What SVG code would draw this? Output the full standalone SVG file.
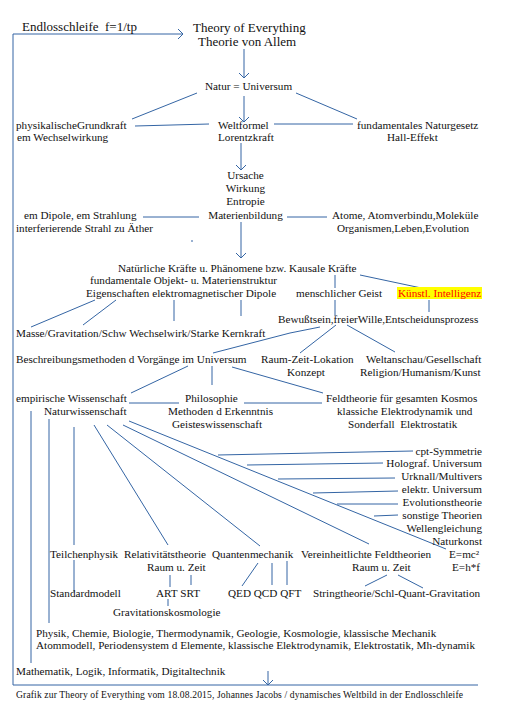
<svg xmlns="http://www.w3.org/2000/svg" width="506" height="706" viewBox="0 0 506 706">
<defs>
<style>
text{font-family:"Liberation Serif","Times New Roman",serif;font-size:11.2px;fill:#111;}
.t{font-size:13px;}
.f{font-size:9.6px;}
.r{text-anchor:end;}
.m{text-anchor:middle;}
.red{fill:#ff0000;}
#connectors line,#connectors path,#connectors polyline{stroke:#3465a4;stroke-width:1;fill:none;}
.a{marker-end:url(#arr);}
</style>
<marker id="arr" viewBox="-6 -6 7 12" refX="0" refY="0" markerWidth="7" markerHeight="12" markerUnits="userSpaceOnUse" orient="auto">
<path d="M-5,-5 L0,0 L-5,5" fill="none" stroke="#3465a4" stroke-width="1"/>
</marker>
</defs>
<rect width="506" height="706" fill="#fff"/>
<g id="connectors">
<path class="a" d="M478,685 H13 V34 H183"/>
<line class="a" x1="268" y1="671" x2="268" y2="685"/>
<line class="a" x1="244" y1="49" x2="244" y2="78"/>
<line x1="197" y1="93" x2="132" y2="119"/>
<line x1="296" y1="93" x2="357" y2="119"/>
<line class="a" x1="244" y1="96" x2="244" y2="122"/>
<line x1="135" y1="126" x2="209" y2="124"/>
<line x1="274" y1="124" x2="353" y2="124"/>
<line class="a" x1="241" y1="143" x2="241" y2="170"/>
<line x1="143" y1="217" x2="199" y2="217"/>
<line x1="287" y1="217" x2="327" y2="217"/>
<line x1="191" y1="241" x2="193" y2="241"/>
<line class="a" x1="241" y1="222" x2="241" y2="258"/>
<line x1="360" y1="275" x2="426" y2="289"/>
<line x1="429" y1="300" x2="429" y2="312"/>
<line x1="335" y1="275" x2="335" y2="288"/>
<line x1="335" y1="300" x2="335" y2="316"/>
<line x1="95" y1="300" x2="31" y2="327"/>
<line x1="116" y1="300" x2="83" y2="325"/>
<line x1="174" y1="300" x2="174" y2="321"/>
<line x1="241" y1="300" x2="241" y2="316"/>
<polyline points="320,327 290,333 213,353"/>
<line x1="336" y1="325" x2="300" y2="353"/>
<line x1="347" y1="325" x2="395" y2="352"/>
<line x1="188" y1="366" x2="131" y2="393"/>
<line x1="212" y1="366" x2="212" y2="385"/>
<line x1="232" y1="367" x2="323" y2="393"/>
<line x1="129" y1="403" x2="179" y2="403"/>
<line x1="244" y1="403" x2="322" y2="403"/>
<line x1="31" y1="411" x2="31" y2="663"/>
<line x1="49" y1="419" x2="49" y2="623"/>
<line x1="74" y1="427" x2="74" y2="545"/>
<line x1="74" y1="560" x2="74" y2="592"/>
<line x1="94" y1="425" x2="168" y2="545"/>
<line x1="107" y1="425" x2="260" y2="546"/>
<line x1="123" y1="425" x2="369" y2="544"/>
<line x1="129" y1="421" x2="446" y2="549"/>
<line x1="218" y1="455" x2="413" y2="451"/>
<line x1="247" y1="465" x2="383" y2="463"/>
<line x1="278" y1="479" x2="395" y2="478"/>
<line x1="313" y1="493" x2="398" y2="491"/>
<line x1="337" y1="504" x2="398" y2="504"/>
<line x1="374" y1="516" x2="398" y2="515"/>
<line x1="170" y1="575" x2="170" y2="587"/>
<line x1="191" y1="575" x2="191" y2="585"/>
<line x1="258" y1="563" x2="242" y2="586"/>
<line x1="272" y1="563" x2="272" y2="585"/>
<line x1="287" y1="561" x2="287" y2="585"/>
<line x1="387" y1="575" x2="365" y2="586"/>
<line x1="398" y1="575" x2="423" y2="588"/>
<line x1="168" y1="599" x2="168" y2="606"/>
</g>
<g id="loop"><text class="t" x="22" y="31" xml:space="preserve">Endlosschleife  f=1/tp</text></g>
<g id="toe"><text class="t" x="193" y="32">Theory of Everything</text><text class="t" x="198" y="46">Theorie von Allem</text></g>
<g id="natur"><text x="205" y="90">Natur = Universum</text></g>
<g id="grundkraft"><text x="16" y="129">physikalischeGrundkraft</text><text x="17" y="141">em Wechselwirkung</text></g>
<g id="weltformel"><text x="218" y="129">Weltformel</text><text x="218" y="141">Lorentzkraft</text></g>
<g id="naturgesetz"><text x="357" y="129">fundamentales Naturgesetz</text><text x="387" y="141">Hall-Effekt</text></g>
<g id="ursache"><text class="m" x="245.5" y="179">Ursache</text><text class="m" x="245.5" y="192">Wirkung</text><text class="m" x="245.5" y="205">Entropie</text><text class="m" x="245.5" y="219">Materienbildung</text></g>
<g id="dipole"><text x="24" y="219">em Dipole, em Strahlung</text><text x="16" y="232">interferierende Strahl zu Äther</text></g>
<g id="atome"><text x="332" y="219">Atome, Atomverbindu,Moleküle</text><text x="337" y="232">Organismen,Leben,Evolution</text></g>
<g id="kraefte"><text x="118" y="272">Natürliche Kräfte u. Phänomene bzw. Kausale Kräfte</text><text x="90" y="284">fundamentale Objekt- u. Materienstruktur</text><text x="86" y="297">Eigenschaften elektromagnetischer Dipole</text></g>
<g id="geist"><text x="296" y="297">menschlicher Geist</text></g>
<g id="ki"><rect x="397" y="287" width="85" height="12" fill="#ffff00"/><text class="red" x="398" y="297">Künstl. Intelligenz</text></g>
<g id="bewusstsein"><text x="278" y="323">Bewußtsein,freierWille,Entscheidunsprozess</text></g>
<g id="masse"><text x="16" y="337">Masse/Gravitation/Schw Wechselwirk/Starke Kernkraft</text></g>
<g id="beschreibung"><text x="16" y="363">Beschreibungsmethoden d Vorgänge im Universum</text></g>
<g id="raumzeit"><text x="261" y="363">Raum-Zeit-Lokation</text><text x="287" y="376">Konzept</text></g>
<g id="weltanschau"><text x="366" y="363">Weltanschau/Gesellschaft</text><text x="360" y="376">Religion/Humanism/Kunst</text></g>
<g id="empirisch"><text x="16" y="402">empirische Wissenschaft</text><text x="44" y="415">Naturwissenschaft</text></g>
<g id="philosophie"><text x="185" y="402">Philosophie</text><text x="168" y="415">Methoden d Erkenntnis</text><text x="172" y="428">Geisteswissenschaft</text></g>
<g id="feldtheorie"><text x="326" y="402">Feldtheorie für gesamten Kosmos</text><text x="337" y="415">klassiche Elektrodynamik und</text><text x="348" y="428" xml:space="preserve">Sonderfall  Elektrostatik</text></g>
<g id="theorien">
<text class="r" x="482" y="455">cpt-Symmetrie</text>
<text class="r" x="482" y="467">Holograf. Universum</text>
<text class="r" x="482" y="480">Urknall/Multivers</text>
<text class="r" x="482" y="493">elektr. Universum</text>
<text class="r" x="482" y="506">Evolutionstheorie</text>
<text class="r" x="482" y="519">sonstige Theorien</text>
<text class="r" x="482" y="532">Wellengleichung</text>
<text class="r" x="482" y="545">Naturkonst</text>
</g>
<g id="teilchen"><text x="50" y="558">Teilchenphysik</text></g>
<g id="relativ"><text x="124" y="558">Relativitätstheorie</text><text x="147" y="571">Raum u. Zeit</text></g>
<g id="quanten"><text x="212" y="558">Quantenmechanik</text></g>
<g id="vereinheitlicht"><text x="301" y="558">Vereinheitlichte Feldtheorien</text><text x="352" y="571">Raum u. Zeit</text></g>
<g id="formeln"><text x="449" y="558">E=mc²</text><text x="452" y="571">E=h*f</text></g>
<g id="standard"><text x="50" y="597">Standardmodell</text></g>
<g id="artsrt"><text x="156" y="597">ART SRT</text></g>
<g id="qed"><text x="228" y="597">QED QCD QFT</text></g>
<g id="string"><text x="313" y="597">Stringtheorie/Schl-Quant-Gravitation</text></g>
<g id="gravkos"><text x="113" y="616">Gravitationskosmologie</text></g>
<g id="physik"><text x="36" y="637">Physik, Chemie, Biologie, Thermodynamik, Geologie, Kosmologie, klassische Mechanik</text><text x="36" y="649">Atommodell, Periodensystem d Elemente, klassische Elektrodynamik, Elektrostatik, Mh-dynamik</text></g>
<g id="mathematik"><text x="16" y="675">Mathematik, Logik, Informatik, Digitaltechnik</text></g>
<g id="footer"><text class="f" x="16" y="698" textLength="447" lengthAdjust="spacing">Grafik zur Theory of Everything vom 18.08.2015, Johannes Jacobs / dynamisches Weltbild in der Endlosschleife</text></g>
</svg>
